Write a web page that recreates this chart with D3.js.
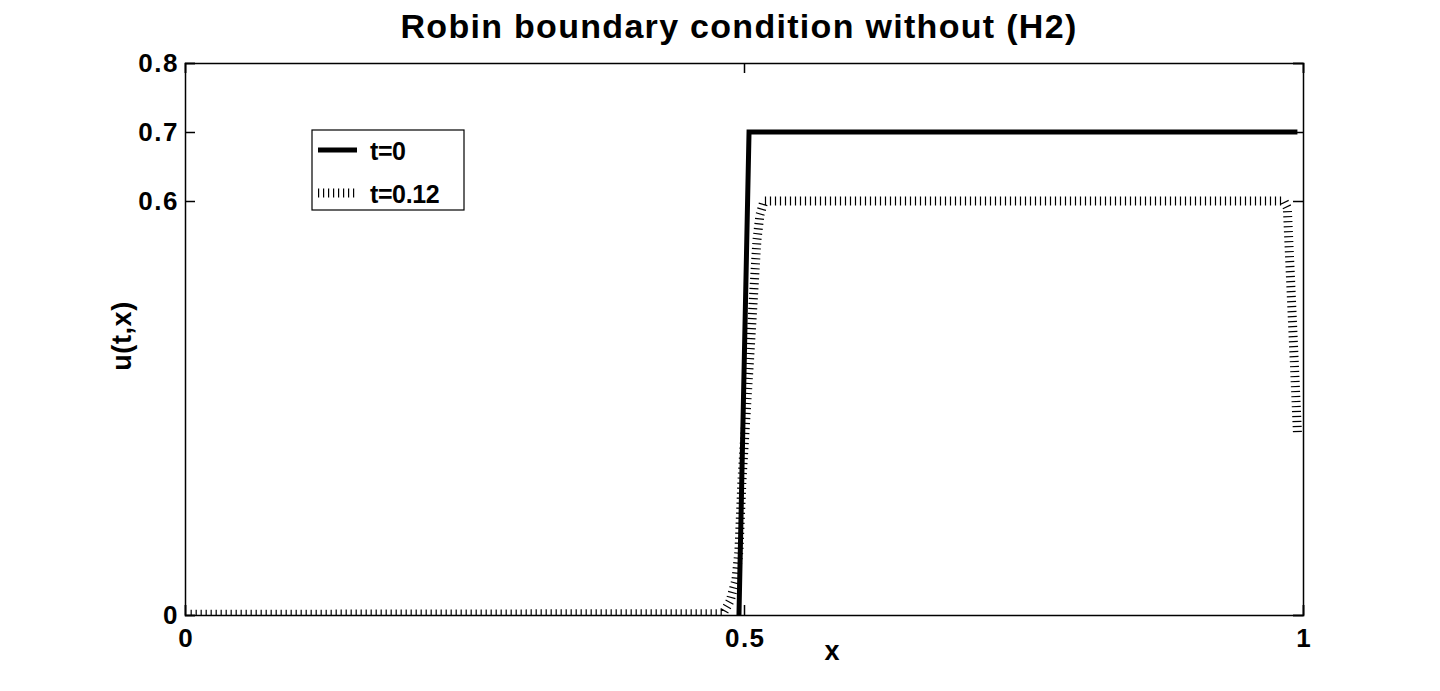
<!DOCTYPE html>
<html>
<head>
<meta charset="utf-8">
<script src="https://cdn.jsdelivr.net/npm/d3@7"></script>
<style>
  body { margin: 0; background: #fff; }
  svg { display: block; font-family: "Liberation Sans", Arial, sans-serif; font-weight: bold; }
</style>
</head>
<body>
<svg id="chart" width="1440" height="691"></svg>
<script>
const xTicks = [0, 0.5, 1];
const yTicks = [0, 0.6, 0.7, 0.8];

// t=0 : step at x=0.5
const seriesT0 = [[0.4955, 0], [0.5045, 0.7], [0.995, 0.7]];
// t=0.12
const seriesT012 = [
  [0.005, 0.001], [0.4812, 0.002], [0.4875, 0.020], [0.4928, 0.051], [0.4955, 0.094],
  [0.4982, 0.196], [0.5027, 0.312], [0.5072, 0.428], [0.5116, 0.544], [0.5143, 0.580],
  [0.5179, 0.6], [0.983, 0.6], [0.986, 0.59], [0.995, 0.265]
];
const legendLabels = ["t=0", "t=0.12"];

const svg = d3.select("svg");
const margin = {left: 185, right: 137, top: 63, bottom: 76};
const width = parseInt(svg.attr("width"));
const height = parseInt(svg.attr("height"));

const x = d3.scaleLinear().domain([0, 1]).range([margin.left, width - margin.right]);
const y = d3.scaleLinear().domain([0, 0.8]).range([height - margin.bottom, margin.top]);

svg.append("defs").append("clipPath").attr("id", "plot")
    .append("rect")
    .attr("x", x(0)).attr("y", y(0.8))
    .attr("width", x(1) - x(0)).attr("height", y(0) - y(0.8));

const line = d3.line().x(d => x(d[0])).y(d => y(d[1]));

const lines = svg.append("g").attr("clip-path", "url(#plot)");
lines.append("path")
    .datum(seriesT012)
    .attr("d", line)
    .attr("fill", "none")
    .attr("stroke", "#000")
    .attr("stroke-width", 9)
    .attr("stroke-dasharray", "1.2,3.8");
lines.append("path")
    .datum(seriesT0)
    .attr("d", line)
    .attr("fill", "none")
    .attr("stroke", "#000")
    .attr("stroke-width", 5);

// axes box with inward ticks
const fontSize = "26px";
svg.append("g")
    .attr("transform", `translate(0,${y(0)})`)
    .call(d3.axisBottom(x).tickValues(xTicks).tickSize(-10).tickPadding(14).tickFormat(d3.format("")))
    .call(g => g.selectAll("text").style("font-size", fontSize).attr("dx", "0.75px"));
svg.append("g")
    .attr("transform", `translate(0,${y(0.8)})`)
    .call(d3.axisTop(x).tickValues(xTicks).tickSize(-10).tickFormat(""));
svg.append("g")
    .attr("transform", `translate(${x(0)},0)`)
    .call(d3.axisLeft(y).tickValues(yTicks).tickSize(-10).tickPadding(6).tickFormat(d3.format("")))
    .call(g => g.selectAll("text").style("font-size", fontSize));
svg.append("g")
    .attr("transform", `translate(${x(1)},0)`)
    .call(d3.axisRight(y).tickValues(yTicks).tickSize(-10).tickFormat(""));

svg.selectAll(".domain, .tick line").attr("stroke", "#000").attr("stroke-width", 1.5);
svg.selectAll(".tick text").attr("fill", "#000")
    .style("font-family", "'Liberation Sans', Arial, sans-serif")
    .style("letter-spacing", "1.5px");

// title and axis labels
svg.append("text")
    .attr("x", 739).attr("y", 38)
    .attr("text-anchor", "middle")
    .style("font-size", "34px")
    .style("letter-spacing", "1.3px")
    .text("Robin boundary condition without (H2)");
svg.append("text")
    .attr("x", 832).attr("y", 660)
    .attr("text-anchor", "middle")
    .style("font-size", "27px")
    .text("x");
svg.append("text")
    .attr("transform", "translate(131,336) rotate(-90)")
    .attr("text-anchor", "middle")
    .style("font-size", "27px")
    .style("letter-spacing", "0.6px")
    .text("u(t,x)");

// legend
const legend = svg.append("g").attr("transform", "translate(312,130)");
legend.append("rect")
    .attr("width", 152).attr("height", 80)
    .attr("fill", "#fff").attr("stroke", "#000").attr("stroke-width", 1.2);
const styles = [{w: 5, dash: null}, {w: 9, dash: "1.2,3.8"}];
legendLabels.forEach((lab, i) => {
    const ly = 20 + i * 43;
    legend.append("line")
        .attr("x1", 6).attr("x2", 45).attr("y1", ly).attr("y2", ly)
        .attr("stroke", "#000")
        .attr("stroke-width", styles[i].w)
        .attr("stroke-dasharray", styles[i].dash);
    legend.append("text")
        .attr("x", 58).attr("y", ly + 10)
        .style("font-size", "25px")
        .style("letter-spacing", "-0.4px")
        .text(lab);
});
</script>
</body>
</html>
